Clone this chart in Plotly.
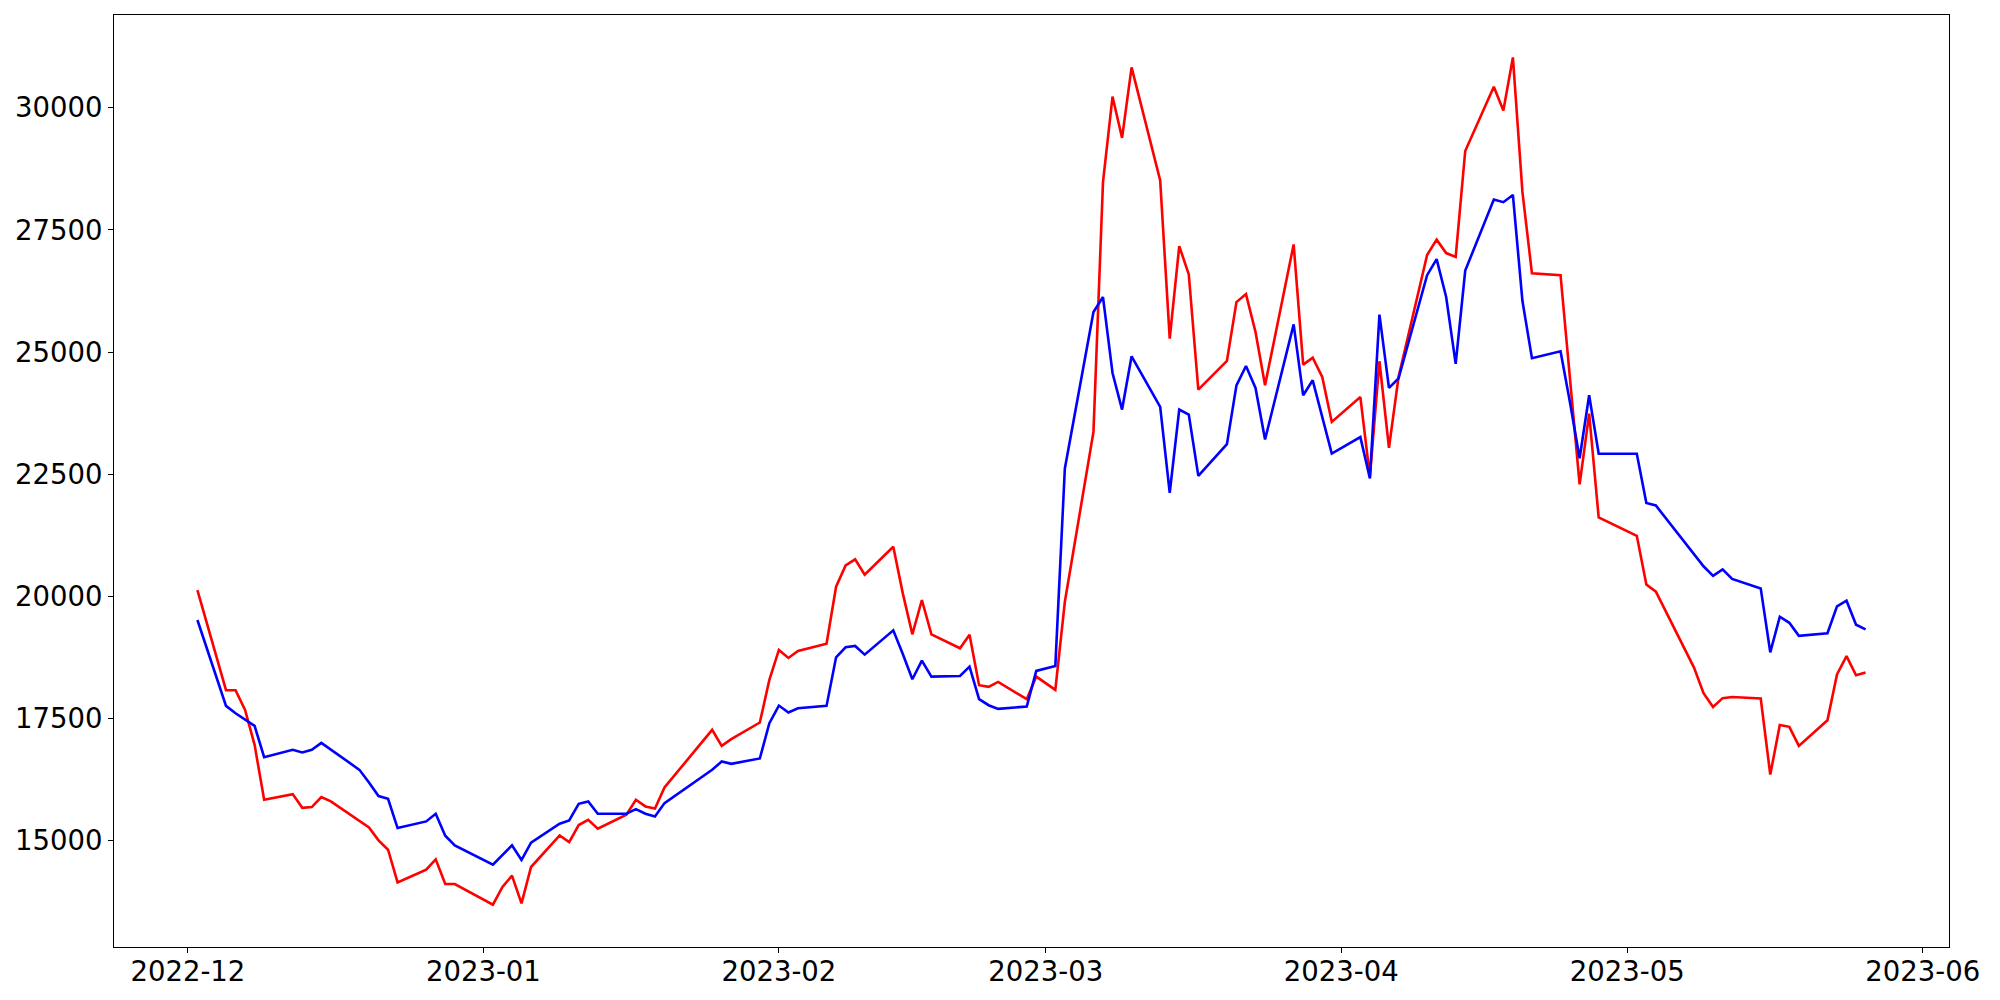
import pandas as pd
import plotly.graph_objects as go

# Trading days (KRX calendar) shown on the x axis
start_date = "2022-12-02"
end_date = "2023-05-26"
market_holidays = ["2022-12-30", "2023-01-23", "2023-01-24",
                   "2023-03-01", "2023-05-01", "2023-05-05"]

red_values = [
    # Dec 2022
    20130, 18080, 18080, 17677, 16962, 15838, 15954, 15674, 15688, 15892,
    15804, 15416, 15272, 15007, 14816, 14148, 14407, 14618, 14114, 14114,
    # Jan 2023
    13692, 14053, 14285, 13719, 14462, 15109, 14973, 15320, 15429, 15245,
    15531, 15838, 15702, 15661, 16090, 17269, 16942, 17078, 17419, 18291,
    # Feb 2023
    18904, 18740, 18883, 19033, 20198, 20634, 20757, 20444, 21016, 20062,
    19224, 19926, 19224, 18938, 19217, 18182, 18148, 18250, 17896, 18359,
    # Mar 2023
    18086, 19892, 23366, 28476, 30227, 29382, 30826, 28510, 25274, 27168,
    26589, 24232, 24818, 26023, 26187, 25410, 24320, 27202, 24743, 24886,
    24490, 23571,
    # Apr 2023
    24080, 22450, 24812, 23040, 24484, 26987, 27300, 27026, 26948, 29115,
    30429, 29944, 31031, 28278, 26612, 26573, 24508, 22294, 23741, 21615,
    # May 2023
    21240, 20243, 20098, 18543, 18019, 17738, 17918, 17941, 17910, 16353,
    17370, 17331, 16940, 17464, 18403, 18778, 18387, 18442,
]

blue_values = [
    # Dec 2022
    19517, 17759, 17609, 17473, 17350, 16710, 16860, 16805, 16860, 17003,
    16867, 16451, 16192, 15913, 15858, 15259, 15395, 15552, 15102, 14905,
    # Jan 2023
    14509, 14700, 14905, 14605, 14960, 15347, 15416, 15756, 15804, 15552,
    15552, 15647, 15552, 15497, 15770, 16451, 16622, 16574, 16683, 17405,
    # Feb 2023
    17766, 17623, 17712, 17759, 18754, 18958, 18986, 18808, 19306, 18822,
    18304, 18686, 18359, 18372, 18563, 17896, 17773, 17698, 17746, 18475,
    # Mar 2023
    18577, 22617, 25819, 26126, 24572, 23823, 24913, 23877, 22120, 23823,
    23721, 22467, 23114, 24320, 24715, 24266, 23210, 25567, 24116, 24422,
    23673, 22924,
    # Apr 2023
    23260, 22412, 25765, 24268, 24458, 26573, 26901, 26127, 24758, 26667,
    28121, 28067, 28215, 26049, 24875, 25016, 23960, 22826, 24116, 22918,
    # May 2023
    22918, 21910, 21860, 20874, 20616, 20421, 20554, 20358, 20163, 18856,
    19584, 19459, 19193, 19247, 19795, 19912, 19419, 19326,
]

x_tick_start = "2022-12-01"
y_tick_values = [15000, 17500, 20000, 22500, 25000, 27500, 30000]

dates = pd.bdate_range(start_date, end_date)
dates = dates[~dates.isin(pd.to_datetime(market_holidays))]
assert len(dates) == len(red_values) == len(blue_values)

# matplotlib-like 5% data margins
span_t = dates[-1] - dates[0]
x_range = [dates[0] - 0.05 * span_t, dates[-1] + 0.05 * span_t]
all_vals = red_values + blue_values
lo, hi = min(all_vals), max(all_vals)
pad = 0.05 * (hi - lo)
y_range = [lo - pad, hi + pad]

fig = go.Figure()
fig.add_trace(go.Scatter(x=dates, y=red_values, mode="lines",
                         line=dict(color="#ff0000", width=2.6), showlegend=False))
fig.add_trace(go.Scatter(x=dates, y=blue_values, mode="lines",
                         line=dict(color="#0000ff", width=2.6), showlegend=False))

font = dict(family="DejaVu Sans", size=27.5, color="black")
# page body has an 8px margin; the figure is sized so the page fits the window
fig.update_layout(
    width=1984, height=984,
    margin=dict(l=106, r=43, t=7, b=45),
    paper_bgcolor="white", plot_bgcolor="white",
    font=font,
)
fig.update_xaxes(
    type="date", range=x_range, tick0=x_tick_start, dtick="M1",
    tickformat="%Y-%m", ticks="outside", ticklen=5, tickwidth=1.1,
    tickcolor="black", showline=True, linecolor="black", linewidth=1.1,
    mirror=True, showgrid=False, zeroline=False, tickfont=font,
    automargin=False, ticklabelstandoff=-5,
)
fig.update_yaxes(
    range=y_range, tickmode="array", tickvals=y_tick_values,
    ticktext=[str(v) for v in y_tick_values],
    ticks="outside", ticklen=5, tickwidth=1.1, tickcolor="black",
    showline=True, linecolor="black", linewidth=1.1, mirror=True,
    showgrid=False, zeroline=False, tickfont=font,
    automargin=False,
)

fig.write_html("out.html")
